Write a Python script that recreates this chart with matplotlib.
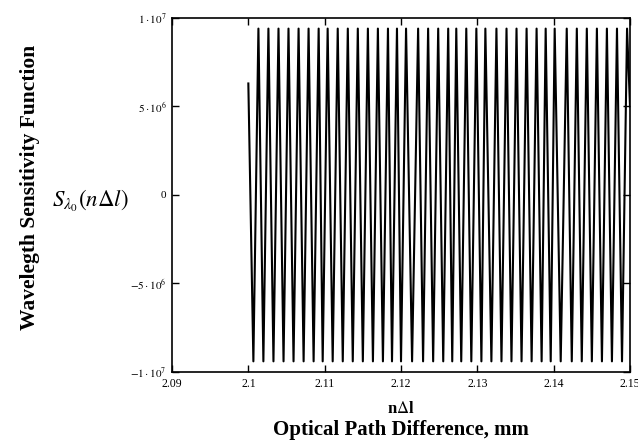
import numpy as np
import matplotlib
matplotlib.use("Agg")
import matplotlib.pyplot as plt

# peak / trough positions (mm)
peak_x = [2.10132, 2.10263, 2.10395, 2.10526, 2.10658, 2.10789, 2.10921, 2.11039, 2.11171, 2.11303,
          2.11434, 2.11566, 2.11697, 2.11829, 2.11947, 2.12066, 2.12224, 2.12355, 2.12487, 2.12618,
          2.12724, 2.12855, 2.12987, 2.13105, 2.13250, 2.13382, 2.13513, 2.13645, 2.13776, 2.13895,
          2.14013, 2.14171, 2.14303, 2.14434, 2.14566, 2.14697, 2.14829, 2.14961]
trough_x = [2.10066, 2.10197, 2.10329, 2.10461, 2.10592, 2.10724, 2.10855, 2.10974, 2.11105, 2.11237,
            2.11368, 2.11500, 2.11632, 2.11763, 2.11882, 2.12000, 2.12145, 2.12289, 2.12421, 2.12553,
            2.12671, 2.12789, 2.12921, 2.13053, 2.13184, 2.13316, 2.13447, 2.13579, 2.13711, 2.13842,
            2.13961, 2.14092, 2.14237, 2.14368, 2.14500, 2.14632, 2.14763, 2.14895]
peak_y = 9.4e6
trough_y = -9.4e6
start = (2.1, 6.3e6)
end = (2.15, 5.0e6)

yticks = [1e7, 5e6, 0, -5e6, -1e7]
ytick_labels = [r'$1\cdot10^{7}$', r'$5\cdot10^{6}$', '0', r'$-5\cdot10^{6}$', r'$-1\cdot10^{7}$']
xticks = [2.09, 2.1, 2.11, 2.12, 2.13, 2.14, 2.15]
xtick_labels = ['2.09', '2.1', '2.11', '2.12', '2.13', '2.14', '2.15']

plt.rcParams['font.family'] = ['Liberation Serif', 'DejaVu Serif']
plt.rcParams['mathtext.fontset'] = 'stix'

fig = plt.figure(figsize=(6.38, 4.46), dpi=100)
ax = fig.add_axes([0.2696, 0.166, 0.7179, 0.7937])

# build the zig-zag trace in order
xs = [start[0]]
ys = [start[1]]
for t, p in zip(trough_x, peak_x):
    xs += [t, p]
    ys += [trough_y, peak_y]
xs.append(end[0])
ys.append(end[1])
ax.plot(xs, ys, color='black', lw=1.5)

ax.set_xlim(2.09, 2.15)
ax.set_ylim(-1e7, 1e7)
ax.set_xticks(xticks)
ax.set_xticklabels(xtick_labels, fontsize=8.5)
ax.set_yticks(yticks)
ax.set_yticklabels(ytick_labels, fontsize=8)
ax.tick_params(direction='in', top=True, right=True, length=5, width=1, pad=4)
for s in ax.spines.values():
    s.set_linewidth(1.2)

fig.text(0.047, 0.58, 'Wavelegth Sensitivity Function', rotation=90,
         fontsize=15.5, fontweight='bold', ha='center', va='center')
fig.text(0.141, 0.55, r'$S_{\lambda_0}(n\Delta l)$', fontsize=16.5,
         ha='center', va='center')
fig.text(0.628, 0.083, r'n$\Delta$l', fontsize=12, fontweight='bold', ha='center', va='center')
fig.text(0.628, 0.036, 'Optical Path Difference, mm', fontsize=15, fontweight='bold',
         ha='center', va='center')

fig.savefig('out.png', dpi=100)
